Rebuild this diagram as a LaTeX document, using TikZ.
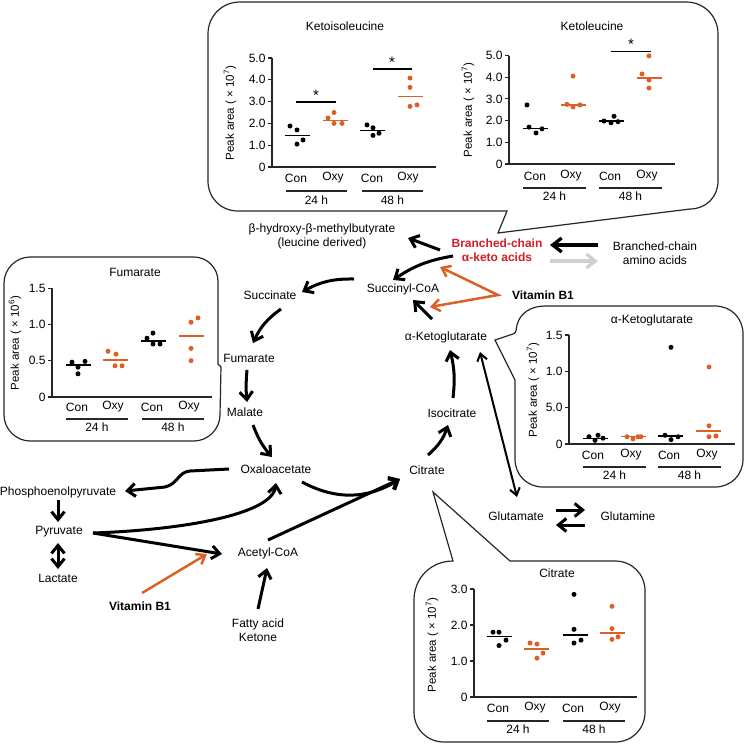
\documentclass[tikz,border=0pt]{standalone}
\usepackage{fontspec}
\setmainfont{Liberation Sans}
\usetikzlibrary{arrows.meta,calc}
\definecolor{oxyorange}{RGB}{220,96,38}
\definecolor{bckared}{RGB}{210,30,40}
\definecolor{bcaagrey}{RGB}{208,208,208}
\tikzset{
  met/.style={inner sep=0pt, align=center, font=\fontsize{12}{14}\selectfont},
  vitlab/.style={met, font=\fontsize{12}{14}\selectfont\bfseries},
  flow/.style={line width=3pt, -{Straight Barb[length=8pt,width=13pt]}},
  bcflow/.style={line width=3.3pt, -{Straight Barb[length=9pt,width=14pt]}},
  vitflow/.style={oxyorange, line width=2.5pt, -{Straight Barb[length=8pt,width=12pt]}},
  callout/.style={line width=1.2pt, draw=black!85},
  axisline/.style={line width=1.1pt, black!85},
  medline/.style={line width=1.3pt},
  grpline/.style={line width=1.2pt, black!85},
  ticklab/.style={anchor=east, xshift=-2pt, inner sep=0pt, text=black, font=\fontsize{12}{14}\selectfont},
  grplab/.style={inner sep=0pt, font=\fontsize{12}{14}\selectfont},
  plottitle/.style={inner sep=0pt, font=\fontsize{12}{14}\selectfont},
  peaklab/.style={inner sep=0pt, rotate=90, font=\fontsize{11.5}{13}\selectfont},
  sigstar/.style={inner sep=0pt, font=\fontsize{15}{16}\selectfont}
}
\begin{document}
\begin{tikzpicture}[x=1pt, y=-1pt]
  \useasboundingbox (0,0) rectangle (747,745);

  % Callouts
  \draw[callout] (240,2) -- (686,2) .. controls (704,2) and (718,16) .. (718,34)
    -- (718,181) .. controls (718,197) and (706,209) .. (690,209) -- (498,233) -- (507,211)
    -- (238,211) .. controls (221,211) and (208,198) .. (208,181)
    -- (208,34) .. controls (208,16) and (222,2) .. (240,2) -- cycle;
  \draw[callout] (30,257) -- (194,257) .. controls (207,257) and (218,268) .. (218,281)
    -- (218,364) -- (221,367) -- (220,415) .. controls (220,429) and (208,441) .. (194,441)
    -- (30,441) .. controls (16,441) and (4,429) .. (4,415)
    -- (4,283) .. controls (4,269) and (16,257) .. (30,257) -- cycle;
  \draw[callout] (545,306) -- (715,306) .. controls (731,306) and (743,318) .. (743,334)
    -- (743,459) .. controls (743,475) and (731,487) .. (715,487)
    -- (543,487) .. controls (527,487) and (515,475) .. (515,459)
    -- (515,380) -- (495,340) -- (513,334) .. controls (517,333) and (516,328) .. (517,325)
    .. controls (520,313) and (531,306) .. (545,306) -- cycle;
  \draw[callout] (510,561) -- (615,561) .. controls (632,561) and (645,574) .. (645,591)
    -- (645,712) .. controls (645,729) and (632,742) .. (615,742)
    -- (444,742) .. controls (427,742) and (414,729) .. (414,712)
    -- (414,600) .. controls (414,578) and (431,561) .. (453,561) -- (433,492) -- cycle;

  % Metabolites
  \node[met] (hmb) at (322,236) {β-hydroxy-β-methylbutyrate\\(leucine derived)};
  \node[met, text=bckared, font=\fontsize{12}{14}\selectfont\bfseries] (bcka) at (497,250) {Branched-chain\\α-keto acids};
  \node[met] (bcaa) at (655,253) {Branched-chain\\amino acids};
  \node[vitlab] (vba) at (543,295) {Vitamin B1};
  \node[met] (succoa) at (403,289) {Succinyl-CoA};
  \node[met] (succ) at (270,295) {Succinate};
  \node[met] (fum) at (249,358) {Fumarate};
  \node[met] (mal) at (245,412) {Malate};
  \node[met] (oaa) at (276,469) {Oxaloacetate};
  \node[met] (cit) at (427,470) {Citrate};
  \node[met] (iso) at (452,413) {Isocitrate};
  \node[met] (akg) at (446,337) {α-Ketoglutarate};
  \node[met] (glu) at (516,516) {Glutamate};
  \node[met] (gln) at (628,516) {Glutamine};
  \node[met] (pep) at (58,492) {Phosphoenolpyruvate};
  \node[met] (pyr) at (59,532) {Pyruvate};
  \node[met] (lac) at (58,578) {Lactate};
  \node[vitlab] (vbb) at (140,606) {Vitamin B1};
  \node[met] (acoa) at (268,553) {Acetyl-CoA};
  \node[met] (fat) at (258,630) {Fatty acid\\Ketone};

  % Branched-chain reactions
  \draw[bcflow] ([shift={(-57,-8)}]bcaa.center) -- ([shift={(53,-5)}]bcka.center);
  \draw[bcflow, bcaagrey] ([shift={(53,11)}]bcka.center) -- ([shift={(-57,8)}]bcaa.center);
  \draw[flow] ([shift={(-57,0)}]bcka.center) -- ([shift={(86,2)}]hmb.center);
  \draw[flow] ([shift={(-44,6)}]bcka.center) to[bend right=12] ([shift={(-10,-9)}]succoa.center);
  \draw[vitflow, {Straight Barb[length=8pt,width=12pt]}-{Straight Barb[length=8pt,width=12pt]}, line join=miter]
    ([shift={(-57,17)}]bcka.center) -- ([shift={(-45,0)}]vba.center) -- ([shift={(27,18)}]succoa.center);

  % TCA cycle
  \draw[flow] ([shift={(-49,-10)}]succoa.center) to[bend right=15] ([shift={(32,-3)}]succ.center);
  \draw[flow] ([shift={(11,14)}]succ.center) to[bend right=15] ([shift={(4,-15)}]fum.center);
  \draw[flow] ([shift={(-2,12)}]fum.center) to[bend right=5] ([shift={(2,-10)}]mal.center);
  \draw[flow] ([shift={(8,13)}]mal.center) to[bend right=10] ([shift={(-4,-12)}]oaa.center);
  \draw[flow] ([shift={(26,13)}]oaa.center) to[bend right=30] ([shift={(-27,9)}]cit.center);
  \draw[flow] ([shift={(1,-15)}]cit.center) to[bend right=15] ([shift={(-4,12)}]iso.center);
  \draw[flow] ([shift={(1,-15)}]iso.center) to[bend right=10] ([shift={(4,13)}]akg.center);
  \draw[flow] ([shift={(-14,-18)}]akg.center) -- ([shift={(10,11)}]succoa.center);

  % Glutamate / glutamine
  \draw[line width=2pt, {Straight Barb[length=7pt,width=10pt]}-{Straight Barb[length=7pt,width=10pt]}]
    ([shift={(34,15)}]akg.center) -- ([shift={(1,-19)}]glu.center);
  \draw[flow] ([shift={(40,-6)}]glu.center) -- ([shift={(-43,-6)}]gln.center);
  \draw[flow] ([shift={(-43,9)}]gln.center) -- ([shift={(40,9)}]glu.center);

  % Glycolysis side
  \draw[flow] ([shift={(-47,0)}]oaa.center) -- (190,471) .. controls (178,472) and (178,484) .. (165,487)
    -- ([shift={(67,-1)}]pep.center);
  \draw[flow] ([shift={(0,8)}]pep.center) -- ([shift={(-1,-10)}]pyr.center);
  \draw[flow, {Straight Barb[length=8pt,width=13pt]}-{Straight Barb[length=8pt,width=13pt]}]
    ([shift={(-1,11)}]pyr.center) -- ([shift={(0,-9)}]lac.center);
  \draw[flow] ([shift={(34,1)}]pyr.center) .. controls (180,530) and (272,515) .. ([shift={(0,14)}]oaa.center);
  \draw[flow] ([shift={(34,1)}]pyr.center) -- ([shift={(-46,1)}]acoa.center);
  \draw[vitflow] ([shift={(2,-13)}]vbb.center) -- ([shift={(-61,1)}]acoa.center);
  \draw[flow] ([shift={(0,-13)}]acoa.center) -- ([shift={(-27,9)}]cit.center);
  \draw[flow] ([shift={(0,-21)}]fat.center) -- ([shift={(-1,15)}]acoa.center);

  % Ketoisoleucine
  \begin{scope}[shift={(272,167)}]
    \node[plottitle] (kiltitle) at (73,-141) {Ketoisoleucine};
    \node[peaklab] (kilylab) at (-42,-54) {Peak area ( × 10\textsuperscript{7})};
    \foreach \x/\g/\n in {24/Con/kilca, 61/Oxy/kiloa, 100/Con/kilcb, 136/Oxy/kilob}
      \node[grplab] (\n) at (\x,11) {\g};
    \draw[grpline] (14,24) -- (75,24);
    \draw[grpline] (90,24) -- (151,24);
    \node[grplab] (kilha) at (44.5,33) {24 h};
    \node[grplab] (kilhb) at (120.5,33) {48 h};
    \begin{scope}[y=21.8pt]
      \draw[axisline] (0,5) -- (0,0) -- (164,0);
      \foreach \v/\t in {0/0,1/1.0,2/2.0,3/3.0,4/4.0,5/5.0}
        \draw[axisline] (0,\v) -- (-4,\v) node[ticklab] {\t};
      \foreach \x/\v in {18/1.88,25/1.70,25/1.05,31/1.24} \fill (\x,\v) circle (2.5pt);
      \draw[medline] (13,1.43) -- (38,1.43);
      \foreach \x/\v in {56/2.25,62/2.5,62/2.0,70/2.0} \fill[oxyorange] (\x,\v) circle (2.5pt);
      \draw[medline, oxyorange] (51,2.12) -- (76,2.12);
      \foreach \x/\v in {95/1.93,101/1.8,101/1.45,107/1.55} \fill (\x,\v) circle (2.5pt);
      \draw[medline] (88,1.67) -- (113,1.67);
      \foreach \x/\v in {138/4.08,138/3.65,138/2.78,145/2.85} \fill[oxyorange] (\x,\v) circle (2.5pt);
      \draw[medline, oxyorange] (126,3.25) -- (151,3.25);
      \draw[medline] (24,2.98) -- (64,2.98);
      \node[sigstar] (kilsa) at (44,3.28) {*};
      \draw[medline] (101,4.5) -- (140,4.5);
      \node[sigstar] (kilsb) at (120,4.78) {*};
    \end{scope}
  \end{scope}

  % Ketoleucine
  \begin{scope}[shift={(509,164)}]
    \node[plottitle] (kletitle) at (83,-138) {Ketoleucine};
    \node[peaklab] (kleylab) at (-41,-54) {Peak area ( × 10\textsuperscript{7})};
    \foreach \x/\g/\n in {26/Con/kleca, 62/Oxy/kleoa, 101/Con/klecb, 138/Oxy/kleob}
      \node[grplab] (\n) at (\x,12) {\g};
    \draw[grpline] (14,24) -- (77,24);
    \draw[grpline] (90,24) -- (153,24);
    \node[grplab] (kleha) at (45.5,32) {24 h};
    \node[grplab] (klehb) at (121.5,32) {48 h};
    \begin{scope}[y=21.7pt]
      \draw[axisline] (0,5) -- (0,0) -- (166,0);
      \foreach \v/\t in {0/0,1/1.0,2/2.0,3/3.0,4/4.0,5/5.0}
        \draw[axisline] (0,\v) -- (-4,\v) node[ticklab] {\t};
      \foreach \x/\v in {18/2.72,20/1.7,27/1.43,33/1.62} \fill (\x,\v) circle (2.5pt);
      \draw[medline] (14,1.65) -- (39,1.65);
      \foreach \x/\v in {64/4.05,58/2.75,64/2.63,71/2.72} \fill[oxyorange] (\x,\v) circle (2.5pt);
      \draw[medline, oxyorange] (52,2.72) -- (77,2.72);
      \foreach \x/\v in {95/1.98,102/1.9,105/2.2,109/1.95} \fill (\x,\v) circle (2.5pt);
      \draw[medline] (90,1.98) -- (115,1.98);
      \foreach \x/\v in {140/4.98,133/4.15,140/3.87,140/3.5} \fill[oxyorange] (\x,\v) circle (2.5pt);
      \draw[medline, oxyorange] (128,3.97) -- (153,3.97);
      \draw[medline] (102,5.2) -- (142,5.2);
      \node[sigstar] (klesa) at (122,5.5) {*};
    \end{scope}
  \end{scope}

  % Fumarate
  \begin{scope}[shift={(52,397)}]
    \node[plottitle] (fumtitle) at (83,-125) {Fumarate};
    \node[peaklab] (fumylab) at (-37,-54) {Peak area ( × 10\textsuperscript{6})};
    \foreach \x/\g/\n in {25/Con/fumca, 61/Oxy/fumoa, 100/Con/fumcb, 137/Oxy/fumob}
      \node[grplab] (\n) at (\x,10) {\g};
    \draw[grpline] (14,22) -- (76,22);
    \draw[grpline] (90,22) -- (152,22);
    \node[grplab] (fumha) at (45,30) {24 h};
    \node[grplab] (fumhb) at (121,30) {48 h};
    \begin{scope}[y=72.6pt]
      \draw[axisline] (0,1.5) -- (0,0) -- (160,0);
      \foreach \v/\t in {0/0,0.5/0.5,1/1.0,1.5/1.5}
        \draw[axisline] (0,\v) -- (-4,\v) node[ticklab] {\t};
      \foreach \x/\v in {20/0.48,33/0.49,26/0.41,26/0.32} \fill (\x,\v) circle (2.5pt);
      \draw[medline] (14,0.44) -- (39,0.44);
      \foreach \x/\v in {56/0.63,64/0.59,63/0.43,70/0.43} \fill[oxyorange] (\x,\v) circle (2.5pt);
      \draw[medline, oxyorange] (51,0.51) -- (76,0.51);
      \foreach \x/\v in {95/0.81,101/0.88,101/0.73,108/0.73} \fill (\x,\v) circle (2.5pt);
      \draw[medline] (89,0.77) -- (114,0.77);
      \foreach \x/\v in {139/1.03,146/1.09,139/0.67,139/0.5} \fill[oxyorange] (\x,\v) circle (2.5pt);
      \draw[medline, oxyorange] (127,0.84) -- (152,0.84);
    \end{scope}
  \end{scope}

  % alpha-Ketoglutarate
  \begin{scope}[shift={(569,444)}]
    \node[plottitle] (akgtitle) at (83,-124) {α-Ketoglutarate};
    \node[peaklab] (akgylab) at (-36,-54) {Peak area ( × 10\textsuperscript{7})};
    \foreach \x/\g/\n in {24/Con/akgca, 62/Oxy/akgoa, 100/Con/akgcb, 138/Oxy/akgob}
      \node[grplab] (\n) at (\x,11) {\g};
    \draw[grpline] (14,23) -- (77,23);
    \draw[grpline] (89,23) -- (152,23);
    \node[grplab] (akgha) at (45.5,31) {24 h};
    \node[grplab] (akghb) at (120.5,31) {48 h};
    \begin{scope}[y=72.7pt]
      \draw[axisline] (0,1.5) -- (0,0) -- (166,0);
      \foreach \v/\t in {0/0,0.5/5.0,1/1.0,1.5/1.5}
        \draw[axisline] (0,\v) -- (-4,\v) node[ticklab] {\t};
      \foreach \x/\v in {20/0.1,29/0.12,26/0.05,34/0.08} \fill (\x,\v) circle (2.5pt);
      \draw[medline] (14,0.08) -- (39,0.08);
      \foreach \x/\v in {58/0.1,64/0.07,69/0.1,72/0.1} \fill[oxyorange] (\x,\v) circle (2.5pt);
      \draw[medline, oxyorange] (52,0.1) -- (77,0.1);
      \foreach \x/\v in {102/1.33,96/0.12,109/0.1,102/0.06} \fill (\x,\v) circle (2.5pt);
      \draw[medline] (89,0.11) -- (114,0.11);
      \foreach \x/\v in {140/1.06,140/0.25,140/0.1,147/0.11} \fill[oxyorange] (\x,\v) circle (2.5pt);
      \draw[medline, oxyorange] (127,0.18) -- (152,0.18);
    \end{scope}
  \end{scope}

  % Citrate
  \begin{scope}[shift={(474,697)}]
    \node[plottitle] (cittitle) at (83,-124) {Citrate};
    \node[peaklab] (citylab) at (-42,-52) {Peak area ( × 10\textsuperscript{7})};
    \foreach \x/\g/\n in {24/Con/citca, 61/Oxy/citoa, 99/Con/citcb, 136/Oxy/citob}
      \node[grplab] (\n) at (\x,11) {\g};
    \draw[grpline] (13,24) -- (75,24);
    \draw[grpline] (89,24) -- (151,24);
    \node[grplab] (citha) at (44,32) {24 h};
    \node[grplab] (cithb) at (120,32) {48 h};
    \begin{scope}[y=36pt]
      \draw[axisline] (0,3) -- (0,0) -- (163,0);
      \foreach \v/\t in {0/0,1/1.0,2/2.0,3/3.0}
        \draw[axisline] (0,\v) -- (-4,\v) node[ticklab] {\t};
      \foreach \x/\v in {19/1.8,25/1.8,25/1.43,32/1.58} \fill (\x,\v) circle (2.5pt);
      \draw[medline] (13,1.68) -- (38,1.68);
      \foreach \x/\v in {56/1.5,63/1.47,69/1.22,63/1.08} \fill[oxyorange] (\x,\v) circle (2.5pt);
      \draw[medline, oxyorange] (50,1.33) -- (75,1.33);
      \foreach \x/\v in {100/2.85,100/1.88,100/1.5,107/1.58} \fill (\x,\v) circle (2.5pt);
      \draw[medline] (89,1.72) -- (114,1.72);
      \foreach \x/\v in {138/2.52,138/1.9,138/1.6,144/1.67} \fill[oxyorange] (\x,\v) circle (2.5pt);
      \draw[medline, oxyorange] (126,1.78) -- (151,1.78);
    \end{scope}
  \end{scope}
\end{tikzpicture}
\end{document}
